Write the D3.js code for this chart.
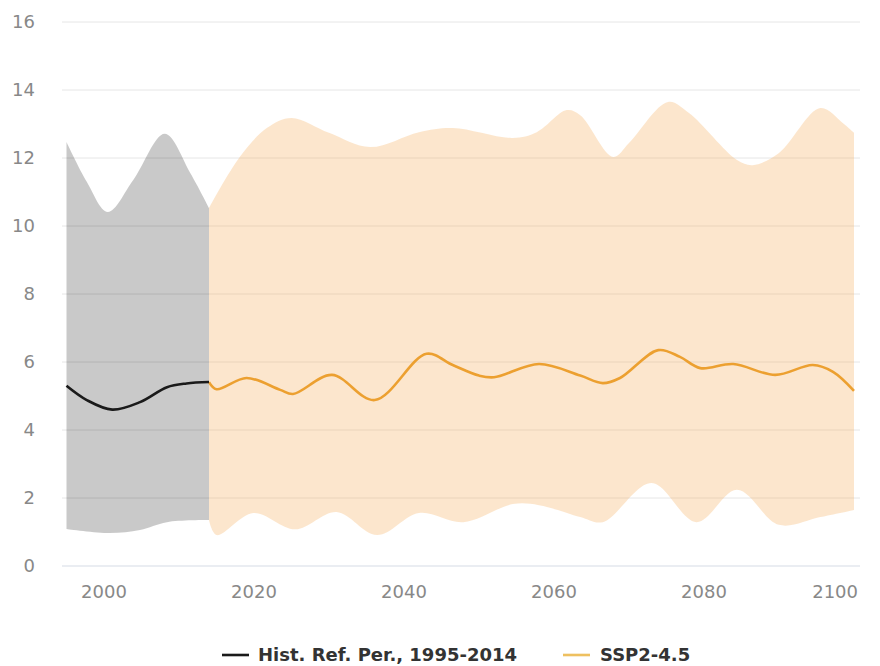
<!DOCTYPE html>
<html>
<head>
<meta charset="utf-8">
<script src="https://cdn.jsdelivr.net/npm/d3@7"></script>
<style>
  body { margin: 0; background: #fff; }
  svg { display: block; font-family: "DejaVu Sans", Verdana, sans-serif; }
</style>
</head>
<body>
<div id="container"></div>
<script>
// historical reference period (1995-2014)
var histMeanYears = [1995, 1997.7, 2001.1, 2004.8, 2008.4, 2011, 2014];
var histMean      = [5.3, 4.88, 4.6, 4.82, 5.26, 5.37, 5.41];
var histUpYears   = [1995, 1997.7, 2000.5, 2003.9, 2008.1, 2011.5, 2014];
var histUp        = [12.47, 11.3, 10.41, 11.35, 12.71, 11.56, 10.53];
var histLowYears  = [1995, 2000.8, 2004.8, 2008.4, 2014];
var histLow       = [1.09, 0.97, 1.06, 1.29, 1.35];

// SSP2-4.5 projection
var sspMeanYears = [2014, 2015, 2019, 2023.5, 2025.2, 2030.4, 2036.1, 2043, 2046.5, 2050, 2052, 2058,
                    2063.5, 2066.5, 2068.8, 2073.9, 2076.8, 2079.5, 2083.9, 2089.5, 2094.5, 2097.2, 2100];
var sspMean      = [5.41, 5.2, 5.53, 5.18, 5.06, 5.62, 4.88, 6.24, 5.91, 5.6, 5.55, 5.94,
                    5.6, 5.38, 5.53, 6.35, 6.15, 5.82, 5.94, 5.62, 5.91, 5.71, 5.15];
var sspUpYears   = [2014, 2018.1, 2021.7, 2025, 2030, 2035.5, 2042, 2046.5, 2054.5, 2057.7, 2061.7, 2063.5,
                    2067.9, 2070, 2075.2, 2078, 2084.4, 2086.5, 2090, 2095.5, 2098.5, 2100];
var sspUp        = [10.53, 12.03, 12.88, 13.18, 12.74, 12.32, 12.76, 12.88, 12.59, 12.76, 13.41, 13.26,
                    12.03, 12.44, 13.65, 13.32, 11.94, 11.79, 12.15, 13.47, 13.03, 12.74];
var sspLowYears  = [2014, 2015, 2019.9, 2025.5, 2031, 2036.4, 2042, 2047.9, 2054.5, 2058, 2063.5, 2066.5,
                    2073, 2079, 2084.4, 2090, 2095.5, 2100];
var sspLow       = [1.35, 0.91, 1.56, 1.08, 1.59, 0.91, 1.56, 1.29, 1.82, 1.79, 1.44, 1.29,
                    2.44, 1.29, 2.24, 1.21, 1.44, 1.65];

var yTicks = [0, 2, 4, 6, 8, 10, 12, 14, 16];
var xTicks = [2000, 2020, 2040, 2060, 2080, 2100];
var legendNames = ["Hist. Ref. Per., 1995-2014", "SSP2-4.5"];

var W = 880, H = 666;
var plot = {left: 62, right: 860, top: 22, bottom: 566};

var x = d3.scaleLinear().domain([1994.4, 2100.8]).range([plot.left, plot.right]);
var y = d3.scaleLinear().domain([0, 16]).range([plot.bottom, plot.top]);

var svg = d3.select("#container").append("svg")
	.attr("width", W)
	.attr("height", H);

function pts(years, vals) { return years.map((yr, i) => [yr, vals[i]]); }

var line = d3.line()
	.x(d => x(d[0]))
	.y(d => y(d[1]))
	.curve(d3.curveCatmullRom.alpha(0.5));

// band = upper curve forward + lower curve backward
function band(upper, lower) {
	var back = lower.slice().reverse();
	return line(upper) + line(back).replace(/^M/, "L") + "Z";
}

// grid
svg.append("g").selectAll("line")
	.data(yTicks.filter(d => d > 0))
	.enter().append("line")
	.attr("x1", plot.left).attr("x2", plot.right)
	.attr("y1", d => y(d)).attr("y2", d => y(d))
	.attr("stroke", "#e6e6e6")
	.attr("stroke-width", 1);

svg.append("line")
	.attr("x1", plot.left).attr("x2", plot.right)
	.attr("y1", y(0)).attr("y2", y(0))
	.attr("stroke", "#d5dbe6")
	.attr("stroke-width", 1.2);

// y labels
svg.append("g").selectAll("text")
	.data(yTicks)
	.enter().append("text")
	.attr("x", 35)
	.attr("y", d => y(d))
	.attr("dy", "0.35em")
	.attr("text-anchor", "end")
	.style("font-size", "18px")
	.style("fill", "#888")
	.text(d => d);

// x labels (last one pulled inside the plot like the original)
svg.append("g").selectAll("text")
	.data(xTicks)
	.enter().append("text")
	.attr("x", d => d == 2100 ? plot.right - 2 : x(d))
	.attr("y", 592)
	.attr("dy", "0.35em")
	.attr("text-anchor", d => d == 2100 ? "end" : "middle")
	.style("font-size", "18px")
	.style("fill", "#888")
	.text(d => d);

// bands
svg.append("path")
	.attr("d", band(pts(histUpYears, histUp), pts(histLowYears, histLow)))
	.attr("fill", "#000")
	.attr("fill-opacity", 0.21);

svg.append("path")
	.attr("d", band(pts(sspUpYears, sspUp), pts(sspLowYears, sspLow)))
	.attr("fill", "rgb(245,172,88)")
	.attr("fill-opacity", 0.3);

// mean lines
svg.append("path")
	.attr("d", line(pts(sspMeanYears, sspMean)))
	.attr("fill", "none")
	.attr("stroke", "#eca030")
	.attr("stroke-width", 2.6);

svg.append("path")
	.attr("d", line(pts(histMeanYears, histMean)))
	.attr("fill", "none")
	.attr("stroke", "#1a1a1a")
	.attr("stroke-width", 2.6);

// legend
var legend = svg.append("g").attr("transform", "translate(0,655)");
var legendX = [[222, 258], [563, 600]];
var legendColors = ["#1a1a1a", "#eec060"];

legendNames.forEach(function(name, i) {
	legend.append("line")
		.attr("x1", legendX[i][0]).attr("x2", legendX[i][0] + 27)
		.attr("y1", 0).attr("y2", 0)
		.attr("stroke", legendColors[i])
		.attr("stroke-width", 2.6);
	legend.append("text")
		.attr("x", legendX[i][1])
		.attr("y", 0)
		.attr("dy", "0.36em")
		.style("font-size", "18px")
		.style("font-weight", "bold")
		.style("fill", "#333")
		.text(name);
});
</script>
</body>
</html>
